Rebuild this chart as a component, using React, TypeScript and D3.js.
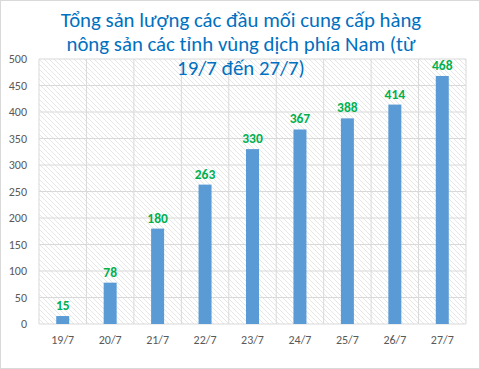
import React from "react";
import * as d3 from "d3";

const categories = ["19/7", "20/7", "21/7", "22/7", "23/7", "24/7", "25/7", "26/7", "27/7"];
const values = [15, 78, 180, 263, 330, 367, 388, 414, 468];
const yTicks = [0, 50, 100, 150, 200, 250, 300, 350, 400, 450, 500];
const titleLines = [
  "Tổng sản lượng các đầu mối cung cấp hàng",
  "nông sản các tỉnh vùng dịch phía Nam (từ",
  "19/7 đến 27/7)",
];

const W = 480;
const H = 369;
const left = 39;
const right = 466;
const top = 59;
const bottom = 324;

export default function App() {
  const x = d3.scaleBand<string>().domain(categories).range([left, right]).paddingInner(0).paddingOuter(0);
  const y = d3.scaleLinear().domain([0, 500]).range([bottom, top]);
  const bw = 13;
  const font = "Carlito, Calibri, 'Open Sans', 'Noto Sans', sans-serif";
  return (
    <svg width={W} height={H} style={{ position: "absolute", left: 0, top: 0 }} fontFamily={font}>
      <defs>
        <pattern id="hatch" patternUnits="userSpaceOnUse" width="5" height="5">
          <path d="M-1,-1 L6,6 M-1,4 L1,6 M4,-1 L6,1" stroke="#dcdcdc" strokeWidth="0.7" />
        </pattern>
      </defs>
      <rect x={0.5} y={0.5} width={W - 1} height={H - 1} fill="#fff" stroke="#d9d9d9" />
      <rect x={left} y={top} width={right - left} height={bottom - top} fill="url(#hatch)" />
      {yTicks.map((t) => (
        <line key={"h" + t} x1={left} x2={right} y1={y(t)} y2={y(t)} stroke="#d9d9d9" strokeWidth={1} />
      ))}
      {categories.map((c) => (
        <line key={"v" + c} x1={x(c)!} x2={x(c)!} y1={top} y2={bottom} stroke="#d9d9d9" strokeWidth={1} />
      ))}
      <line x1={right} x2={right} y1={top} y2={bottom} stroke="#d9d9d9" />
      {yTicks.map((t) => (
        <text key={"yt" + t} x={27} y={y(t) + 4} textAnchor="end" fontSize={12} fill="#595959">
          {t}
        </text>
      ))}
      {categories.map((c, i) => {
        const cx = x(c)! + x.bandwidth() / 2;
        return (
          <g key={"b" + c}>
            <rect x={cx - bw / 2} y={y(values[i])} width={bw} height={bottom - y(values[i])} fill="#5b9bd5" />
            <text x={cx} y={y(values[i]) - 6} textAnchor="middle" fontSize={13.5} fontWeight="bold" fill="#00b050">
              {values[i]}
            </text>
            <text x={cx} y={344} textAnchor="middle" fontSize={12} fill="#595959">
              {c}
            </text>
          </g>
        );
      })}
      {titleLines.map((l, i) => (
        <text key={"t" + i} x={241} y={27 + i * 24} textAnchor="middle" fontSize={20.8} fill="#0070c0">
          {l}
        </text>
      ))}
    </svg>
  );
}
